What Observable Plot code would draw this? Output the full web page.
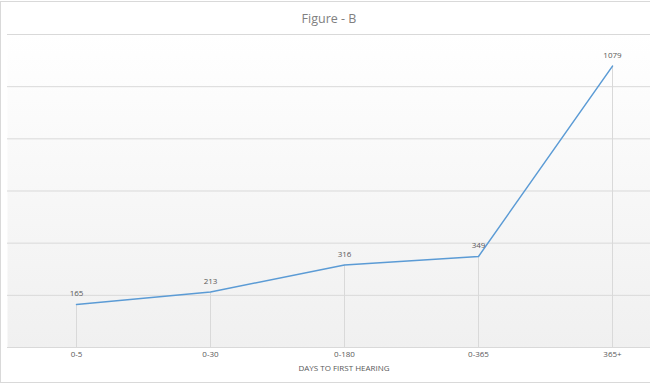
<!DOCTYPE html>
<html>
<head>
<meta charset="utf-8">
<script src="https://cdn.jsdelivr.net/npm/d3@7"></script>
<script src="https://cdn.jsdelivr.net/npm/@observablehq/plot@0.6"></script>
<style>
  html, body { margin: 0; padding: 0; background: #fff; }
  #chart svg { display: block; }
</style>
</head>
<body>
<div id="chart"></div>
<script>
const categories = ["0-5", "0-30", "0-180", "0-365", "365+"];
const values = [165, 213, 316, 349, 1079];
const yTicks = [0, 200, 400, 600, 800, 1000, 1200];
const titleText = "Figure - B";
const xTitle = "DAYS TO FIRST HEARING";

const data = categories.map((c, i) => ({cat: c, val: values[i]}));

const W = 650, H = 385;
const chart = Plot.plot({
  width: W,
  height: H,
  marginTop: 34,
  marginBottom: 38,
  marginLeft: 7,
  marginRight: 0,
  style: {fontFamily: "'Open Sans', sans-serif", background: "transparent", overflow: "visible"},
  x: {type: "point", domain: categories, range: [75, 612], padding: 0, label: null},
  y: {domain: [0, 1200], ticks: yTicks, label: null, axis: null},
  marks: [
    Plot.frame({fill: "url(#plotbg)", stroke: null}),
    Plot.ruleY(yTicks, {stroke: "#d9d9d9", strokeWidth: 1}),
    Plot.ruleX(data, {x: "cat", y1: 0, y2: "val", stroke: "#d9d9d9", strokeWidth: 1}),
    Plot.line(data, {x: "cat", y: "val", stroke: "#5b9bd5", strokeWidth: 1.5}),
    Plot.text(data, {x: "cat", y: "val", text: d => String(d.val), dy: -11, fontSize: 8, fill: "#595959"}),
    Plot.axisX({tickSize: 0, tickPadding: 4, fontSize: 8, color: "#595959", label: null}),
    Plot.text([xTitle], {frameAnchor: "bottom", dx: 15, dy: 23, fontSize: 8, fill: "#595959"}),
    Plot.text([titleText], {frameAnchor: "top", dy: -20, fontSize: 12.5, fill: "#808080"})
  ]
});

const svg = d3.select(chart);
const defs = svg.insert("defs", ":first-child");
const grad = defs.append("linearGradient").attr("id", "plotbg").attr("x1", 0).attr("y1", 0).attr("x2", 0).attr("y2", 1);
grad.append("stop").attr("offset", "0%").attr("stop-color", "#ffffff");
grad.append("stop").attr("offset", "100%").attr("stop-color", "#f0f0f0");
svg.insert("rect", "defs + *")
  .attr("x", 0.5).attr("y", 1.5).attr("width", W + 2).attr("height", H - 4)
  .attr("fill", "none").attr("stroke", "#d9d9d9");

document.getElementById("chart").appendChild(chart);
</script>
</body>
</html>
